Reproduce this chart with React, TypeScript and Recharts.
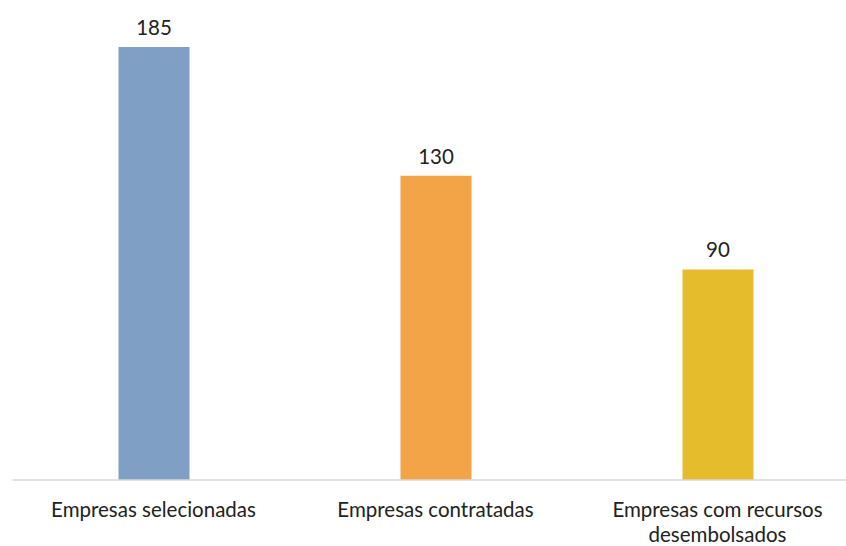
import React from 'react'
import { BarChart, Bar, XAxis, YAxis, LabelList, Cell } from 'recharts'

const categories = ['Empresas selecionadas', 'Empresas contratadas', 'Empresas com recursos desembolsados']
const values = [185, 130, 90]
const colors = ['#7F9FC4', '#F2A447', '#E4BC2C']

const data = categories.map((name, i) => ({ name, value: values[i] }))

const FONT = 'Lato, "Open Sans", sans-serif'

// word wrap by character count, category labels are short
const wrapWords = (s: string, max: number) => {
  const lines: string[] = []
  let cur = ''
  s.split(' ').forEach((w) => {
    const next = cur ? cur + ' ' + w : w
    if (next.length > max && cur) {
      lines.push(cur)
      cur = w
    } else {
      cur = next
    }
  })
  if (cur) lines.push(cur)
  return lines
}

const WrapTick = (props: any) => {
  const { x, y, payload } = props
  const lines = wrapWords(String(payload.value), 22)
  return (
    <text
      x={x}
      y={y + 29}
      textAnchor="middle"
      fontSize={20.5}
      fontFamily={FONT}
      fill="#222"
    >
      {lines.map((l, i) => (
        <tspan key={i} x={x} dy={i === 0 ? 0 : 25}>
          {l}
        </tspan>
      ))}
    </text>
  )
}

const App: React.FC = () => {
  return (
    <div style={{ position: 'absolute', left: 0, top: 0, width: 846, height: 546, overflow: 'hidden', background: '#fff' }}>
      <BarChart
        width={870}
        height={546}
        data={data}
        margin={{ top: 12, right: 11.5, left: 12.5, bottom: 0 }}
      >
        <XAxis
          dataKey="name"
          height={66}
          axisLine={{ stroke: '#D9D9D9', strokeWidth: 1.5 }}
          tickLine={false}
          tick={<WrapTick />}
          interval={0}
        />
        <YAxis hide domain={[0, 200]} width={0} />
        <Bar dataKey="value" barSize={71} isAnimationActive={false}>
          {data.map((d, i) => (
            <Cell key={d.name} fill={colors[i]} />
          ))}
          <LabelList
            dataKey="value"
            position="top"
            offset={12}
            style={{ fontSize: 20.5, fontFamily: FONT, fill: '#222' }}
          />
        </Bar>
      </BarChart>
    </div>
  )
}

export default App
